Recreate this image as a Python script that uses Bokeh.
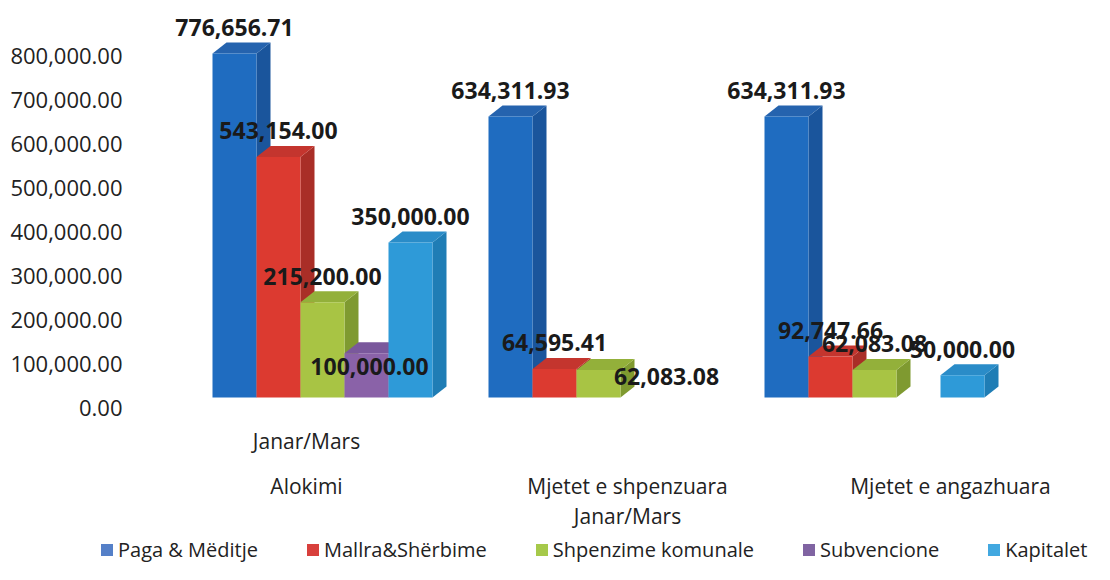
from bokeh.plotting import figure
from bokeh.layouts import column, row
from bokeh.models import (Range1d, LinearAxis, NumeralTickFormatter, FixedTicker,
                          Legend, LegendItem)
from bokeh.core.properties import value
from bokeh.embed import file_html
from bokeh.resources import INLINE

# ---------------- data ----------------
groups = ["Alokimi", "Mjetet e shpenzuara", "Mjetet e angazhuara"]
group_line_above = ["Janar/Mars", "", ""]
group_line_below = ["", "Janar/Mars", ""]
series = ["Paga & Mëditje", "Mallra&Shërbime", "Shpenzime komunale", "Subvencione", "Kapitalet"]
paga = [776656.71, 634311.93, 634311.93]
mallra = [543154.00, 64595.41, 92747.66]
komunale = [215200.00, 62083.08, 62083.08]
subvencione = [100000.00, 0.0, 0.0]
kapitalet = [350000.00, 0.0, 50000.00]
y_ticks = [0, 100000, 200000, 300000, 400000, 500000, 600000, 700000, 800000]

values = [paga, mallra, komunale, subvencione, kapitalet]

# ---------------- styles / layout ----------------
FONT = "Open Sans"
front_col = ["#1f6cc0", "#dc3a30", "#a8c444", "#8a62a8", "#2e9ad8"]
side_col = ["#1a559c", "#a92e27", "#7f9a30", "#6a4a88", "#1f7db5"]
top_col = ["#2563ae", "#c4352e", "#93b03a", "#7a589c", "#2a8cc8"]
legend_col = ["#5580c8", "#d8403c", "#a6c94a", "#8064a2", "#42a8e0"]

W = 1094
HM, HL = 536, 28              # main chart height, legend strip height
FRAME_LEFT = 140
FW, FH = W - FRAME_LEFT, HM
PX_X = 276.0                  # px per group unit
G0 = 182.0                    # px from frame left to first group centre
PX_Y = 44.3 / 100000          # px per value unit (bars)
ZERO_FROM_BOTTOM = HM - 397.0
AX_PX_Y = 44.0 / 100000       # px per value unit (axis wall)
AX_ZERO_FROM_BOTTOM = HM - 407.0

BAR_PX = 44.0
DX_PX, DY_PX = 14.0, 11.0
bw = BAR_PX / PX_X
dx = DX_PX / PX_X
dy = DY_PX / PX_Y

x_range = Range1d(-G0 / PX_X, (FW - G0) / PX_X)
y_range = Range1d(-ZERO_FROM_BOTTOM / PX_Y, (FH - ZERO_FROM_BOTTOM) / PX_Y)

p = figure(width=W, height=HM, output_backend="svg", toolbar_location=None,
           x_range=x_range, y_range=y_range,
           x_axis_location=None, y_axis_location=None,
           min_border_left=FRAME_LEFT, min_border_right=0,
           min_border_top=0, min_border_bottom=0,
           background_fill_color="white", border_fill_color="white",
           outline_line_color=None)
p.xgrid.visible = False
p.ygrid.visible = False

p.extra_y_ranges = {"axis": Range1d(-AX_ZERO_FROM_BOTTOM / AX_PX_Y,
                                    (FH - AX_ZERO_FROM_BOTTOM) / AX_PX_Y)}
yaxis = LinearAxis(y_range_name="axis", ticker=FixedTicker(ticks=y_ticks),
                   formatter=NumeralTickFormatter(format="0,0.00"))
yaxis.axis_line_color = None
yaxis.major_tick_line_color = None
yaxis.minor_tick_line_color = None
yaxis.major_tick_out = 0
yaxis.major_tick_in = 0
yaxis.major_label_standoff = 18
yaxis.major_label_text_font = FONT
yaxis.major_label_text_font_size = "22px"
yaxis.major_label_text_color = "#222222"
p.add_layout(yaxis, "left")

# ---------------- bars (oblique 3D) ----------------
fl, fr, fb, ft, fc = [], [], [], [], []
sx, sy, sc = [], [], []
tx, ty, tc = [], [], []
lx, ly, ltxt, lxo, lyo = [], [], [], [], []

# label placement exceptions (series index, group index) -> (x px, y px)
label_shift = {(3, 0): (3, 24), (2, 1): (68, 18)}

for g in range(len(groups)):
    for s in range(len(series)):
        v = values[s][g]
        if v == 0:
            continue
        left = g + (s - 2.5) * bw
        right = left + bw
        fl.append(left); fr.append(right); fb.append(0); ft.append(v); fc.append(front_col[s])
        sx.append([right, right + dx, right + dx, right])
        sy.append([0, dy, v + dy, v])
        sc.append(side_col[s])
        tx.append([left, left + dx, right + dx, right])
        ty.append([v, v + dy, v + dy, v])
        tc.append(top_col[s])
        ox, oy = label_shift.get((s, g), (0, -15))
        lx.append(left + bw / 2); ly.append(v + dy)
        ltxt.append(f"{v:,.2f}")
        lxo.append(ox); lyo.append(oy)

p.patches(xs=sx, ys=sy, fill_color=sc, line_color=None)
p.patches(xs=tx, ys=ty, fill_color=tc, line_color=None)
p.quad(left=fl, right=fr, bottom=fb, top=ft, fill_color=fc, line_color=None)

p.text(x=lx, y=ly, text=ltxt, x_offset=lxo, y_offset=lyo,
       text_align="center", text_baseline="middle",
       text_font=value(FONT), text_font_style="bold",
       text_font_size="23px", text_color="#1a1a1a")

# ---------------- category labels ----------------
gx = list(range(len(groups)))
cat_xoff = [-16, 29, 76]
for texts, yoff in ((group_line_above, 43), (groups, 88), (group_line_below, 118)):
    p.text(x=gx, y=[0] * len(gx), text=texts, x_offset=cat_xoff, y_offset=[yoff] * len(gx),
           text_align="center", text_baseline="middle",
           text_font=value(FONT), text_font_size="21px", text_color="#222222")

# ---------------- legend strip ----------------
lf = figure(width=W, height=HL, output_backend="svg", toolbar_location=None,
            x_range=Range1d(0, 1), y_range=Range1d(0, 1),
            x_axis_location=None, y_axis_location=None,
            min_border_left=0, min_border_right=0, min_border_top=0, min_border_bottom=0,
            outline_line_color=None, background_fill_color="white",
            border_fill_color="white")
lf.xgrid.visible = False
lf.ygrid.visible = False
items = []
for s, name in enumerate(series):
    # swatch renderer kept outside the visible range; only its legend glyph shows
    r = lf.quad(left=[-3], right=[-2], bottom=[-3], top=[-2],
                fill_color=legend_col[s], line_color=None)
    items.append(LegendItem(label=name, renderers=[r]))
legend = Legend(items=items, orientation="horizontal", location=(99, 1),
                glyph_width=15, glyph_height=15, label_standoff=4, spacing=47,
                padding=0, margin=0, border_line_color=None, background_fill_alpha=0,
                label_text_font=FONT, label_text_font_size="20px",
                label_text_color="#222222", label_height=20)
lf.add_layout(legend, "center")

layout = column(p, row(lf, spacing=0), spacing=0)
open("out.html", "w").write(file_html(layout, INLINE))
